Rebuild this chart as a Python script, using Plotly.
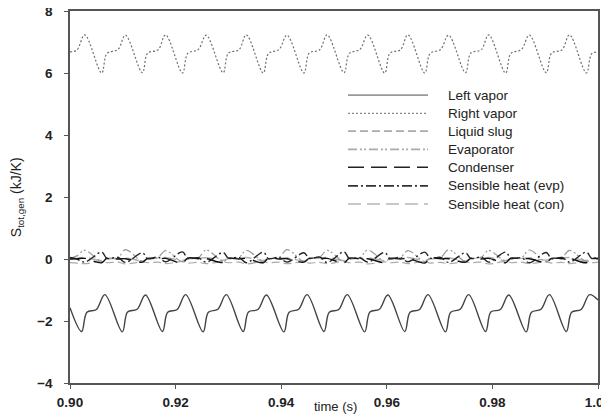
import plotly.graph_objects as go

# ---------------- data ----------------
# key times for the upper (right vapor) curve and near-zero series
t_top = [0.9000, 0.9013,
         0.9028, 0.9060, 0.9070, 0.9091,
         0.9105, 0.9137, 0.9147, 0.9167,
         0.9181, 0.9213, 0.9223, 0.9243,
         0.9258, 0.9290, 0.9300, 0.9320,
         0.9334, 0.9366, 0.9376, 0.9396,
         0.9411, 0.9443, 0.9453, 0.9473,
         0.9487, 0.9519, 0.9529, 0.9549,
         0.9564, 0.9596, 0.9606, 0.9626,
         0.9640, 0.9672, 0.9682, 0.9702,
         0.9717, 0.9749, 0.9759, 0.9779,
         0.9793, 0.9825, 0.9835, 0.9855,
         0.9870, 0.9902, 0.9912, 0.9932,
         0.9946, 0.9978, 0.9988, 1.0000]

right_vapor = [6.68, 6.74,
               7.23, 6.00, 6.63, 6.76,
               7.22, 6.01, 6.64, 6.75,
               7.23, 6.00, 6.63, 6.76,
               7.22, 6.01, 6.64, 6.75,
               7.23, 6.00, 6.63, 6.76,
               7.22, 6.00, 6.64, 6.75,
               7.23, 6.01, 6.63, 6.76,
               7.22, 6.00, 6.64, 6.75,
               7.23, 6.00, 6.63, 6.76,
               7.22, 6.01, 6.64, 6.75,
               7.23, 6.00, 6.63, 6.76,
               7.22, 6.01, 6.64, 6.75,
               7.23, 6.00, 6.62, 6.68]

evaporator = [0.02, 0.10,
              0.28, -0.08, 0.02, 0.05,
              0.30, -0.07, 0.01, 0.06,
              0.27, -0.09, 0.02, 0.04,
              0.29, -0.08, 0.03, 0.05,
              0.28, -0.07, 0.01, 0.05,
              0.30, -0.08, 0.02, 0.06,
              0.28, -0.09, 0.02, 0.04,
              0.29, -0.07, 0.01, 0.05,
              0.27, -0.08, 0.03, 0.05,
              0.30, -0.08, 0.02, 0.06,
              0.28, -0.07, 0.02, 0.04,
              0.29, -0.09, 0.01, 0.05,
              0.28, -0.08, 0.02, 0.04]

sens_evp = [0.05, 0.00,
            -0.10, 0.22, 0.02, 0.05,
            -0.11, 0.20, 0.01, 0.06,
            -0.09, 0.23, 0.02, 0.04,
            -0.10, 0.21, 0.03, 0.05,
            -0.12, 0.22, 0.01, 0.05,
            -0.10, 0.20, 0.02, 0.06,
            -0.11, 0.23, 0.02, 0.04,
            -0.10, 0.21, 0.01, 0.05,
            -0.09, 0.22, 0.03, 0.05,
            -0.11, 0.20, 0.02, 0.06,
            -0.10, 0.22, 0.02, 0.04,
            -0.12, 0.21, 0.01, 0.05,
            -0.10, 0.22, 0.02, 0.04]

condenser = [0.00, 0.01,
             0.02, -0.12, 0.03, 0.00,
             0.01, -0.10, 0.02, 0.00,
             0.02, -0.13, 0.03, 0.01,
             0.01, -0.11, 0.02, 0.00,
             0.02, -0.12, 0.03, 0.00,
             0.01, -0.10, 0.02, 0.01,
             0.02, -0.12, 0.03, 0.00,
             0.01, -0.11, 0.02, 0.00,
             0.02, -0.13, 0.03, 0.01,
             0.01, -0.10, 0.02, 0.00,
             0.02, -0.12, 0.03, 0.00,
             0.01, -0.11, 0.02, 0.01,
             0.02, -0.12, 0.03, 0.00]

liquid_slug = [-0.12, -0.13,
               -0.15, -0.08, -0.12, -0.10,
               -0.16, -0.09, -0.12, -0.10,
               -0.15, -0.08, -0.13, -0.11,
               -0.15, -0.09, -0.12, -0.10,
               -0.16, -0.08, -0.12, -0.10,
               -0.15, -0.09, -0.13, -0.11,
               -0.15, -0.08, -0.12, -0.10,
               -0.16, -0.09, -0.12, -0.10,
               -0.15, -0.08, -0.13, -0.11,
               -0.15, -0.09, -0.12, -0.10,
               -0.16, -0.08, -0.12, -0.10,
               -0.15, -0.09, -0.13, -0.11,
               -0.15, -0.08, -0.12, -0.10]

sens_con = [0.00, 0.02,
            0.05, -0.05, 0.00, 0.02,
            0.04, -0.06, 0.01, 0.02,
            0.05, -0.05, 0.00, 0.03,
            0.04, -0.04, 0.01, 0.02,
            0.05, -0.05, 0.00, 0.02,
            0.04, -0.06, 0.01, 0.03,
            0.05, -0.05, 0.00, 0.02,
            0.04, -0.04, 0.01, 0.02,
            0.05, -0.05, 0.00, 0.03,
            0.04, -0.06, 0.01, 0.02,
            0.05, -0.05, 0.00, 0.02,
            0.04, -0.04, 0.01, 0.03,
            0.05, -0.05, 0.00, 0.02]

# key times for the lower (left vapor) curve
t_bot = [0.9000,
         0.9022, 0.9032, 0.9050, 0.9066,
         0.9099, 0.9109, 0.9127, 0.9143,
         0.9175, 0.9185, 0.9203, 0.9219,
         0.9252, 0.9262, 0.9280, 0.9296,
         0.9328, 0.9338, 0.9356, 0.9372,
         0.9405, 0.9415, 0.9433, 0.9449,
         0.9481, 0.9491, 0.9509, 0.9525,
         0.9558, 0.9568, 0.9586, 0.9602,
         0.9634, 0.9644, 0.9662, 0.9678,
         0.9711, 0.9721, 0.9739, 0.9755,
         0.9787, 0.9797, 0.9815, 0.9831,
         0.9864, 0.9874, 0.9892, 0.9908,
         0.9940, 0.9950, 0.9968, 0.9984,
         1.0000]

left_vapor = [-1.57,
              -2.34, -1.72, -1.63, -1.15,
              -2.35, -1.71, -1.62, -1.16,
              -2.34, -1.72, -1.63, -1.15,
              -2.35, -1.72, -1.62, -1.15,
              -2.34, -1.71, -1.63, -1.16,
              -2.35, -1.72, -1.62, -1.15,
              -2.34, -1.72, -1.63, -1.15,
              -2.35, -1.71, -1.62, -1.16,
              -2.34, -1.72, -1.63, -1.15,
              -2.35, -1.72, -1.62, -1.15,
              -2.34, -1.71, -1.63, -1.16,
              -2.35, -1.72, -1.62, -1.15,
              -2.34, -1.72, -1.63, -1.15,
              -1.32]

x_ticks = [0.90, 0.92, 0.94, 0.96, 0.98, 1.00]
y_ticks = [-4, -2, 0, 2, 4, 6, 8]

series_names = ["Left vapor", "Right vapor", "Liquid slug", "Evaporator",
                "Condenser", "Sensible heat (evp)", "Sensible heat (con)"]

# ---------------- styles ----------------
styles = {
    "Left vapor": dict(color="#444444", dash="solid", width=1.4),
    "Right vapor": dict(color="#707070", dash="2px,2px", width=1.2),
    "Liquid slug": dict(color="#aaaaaa", dash="8px,4px", width=1.2),
    "Evaporator": dict(color="#999999", dash="9px,3px,2px,2px,2px,3px", width=1.2),
    "Condenser": dict(color="#111111", dash="16px,8px", width=1.4),
    "Sensible heat (evp)": dict(color="#222222", dash="10px,3px,2px,3px", width=1.4),
    "Sensible heat (con)": dict(color="#b0b0b0", dash="13px,6px", width=1.4),
}
legend_styles = {
    "Left vapor": dict(color="#999999", dash="solid", width=1.8),
    "Right vapor": dict(color="#888888", dash="2px,2px", width=1.2),
    "Liquid slug": dict(color="#aaaaaa", dash="8px,4px", width=1.6),
    "Evaporator": dict(color="#aaaaaa", dash="9px,3px,2px,2px,2px,3px", width=1.6),
    "Condenser": dict(color="#222222", dash="16px,7px", width=1.6),
    "Sensible heat (evp)": dict(color="#333333", dash="10px,3px,2px,3px", width=1.6),
    "Sensible heat (con)": dict(color="#b5b5b5", dash="13px,6px", width=1.6),
}

data = {
    "Left vapor": (t_bot, left_vapor),
    "Right vapor": (t_top, right_vapor),
    "Liquid slug": (t_top, liquid_slug),
    "Evaporator": (t_top, evaporator),
    "Condenser": (t_top, condenser),
    "Sensible heat (evp)": (t_top, sens_evp),
    "Sensible heat (con)": (t_top, sens_con),
}

FONT = "Liberation Sans, Arial"

fig = go.Figure()
draw_order = ["Liquid slug", "Sensible heat (con)", "Evaporator", "Condenser",
              "Sensible heat (evp)", "Right vapor", "Left vapor"]
for name in draw_order:
    t, v = data[name]
    fig.add_trace(go.Scatter(x=t, y=v, mode="lines", name=name,
                             line=dict(shape="spline", smoothing=1.0, **styles[name]),
                             showlegend=False))

# manual legend (matches the original's long line samples)
row_y = [0.774, 0.725, 0.677, 0.628, 0.580, 0.530, 0.481]
for name, yy in zip(series_names, row_y):
    st = legend_styles[name]
    fig.add_shape(type="line", xref="paper", yref="paper",
                  x0=0.5265, x1=0.678, y0=yy, y1=yy,
                  line=dict(color=st["color"], dash=st["dash"], width=st["width"]))
    fig.add_annotation(xref="paper", yref="paper", x=0.712, y=yy, text=name,
                       showarrow=False, xanchor="left", yanchor="middle",
                       font=dict(family=FONT, size=13.5, color="#222222"))

# axis titles
fig.add_annotation(xref="paper", yref="paper", x=0.502, y=-0.064, text="time (s)",
                   showarrow=False, xanchor="center", yanchor="middle",
                   font=dict(family=FONT, size=13, color="#222222"))
fig.add_annotation(xref="paper", yref="paper", x=-0.100, y=0.50,
                   text="S<sub>tot,gen</sub> (kJ/K)", textangle=-90,
                   showarrow=False, xanchor="center", yanchor="middle",
                   font=dict(family=FONT, size=14, color="#222222"))

axis_common = dict(showgrid=False, zeroline=False, showline=True, mirror=True,
                   linecolor="#555555", linewidth=1.5, ticks="outside", ticklen=4,
                   tickcolor="#555555", tickwidth=1, ticklabeloverflow="allow",
                   automargin=False,
                   tickfont=dict(family=FONT, size=13.5, color="#222222", weight="bold"))

fig.update_xaxes(range=[0.90, 1.00], tickvals=x_ticks, tickformat=".2f",
                 ticklabelstandoff=2, **axis_common)
fig.update_yaxes(range=[-4, 8], tickvals=y_ticks, ticklabelstandoff=9, **axis_common)

# the page adds an 8px body margin, so the figure is sized/positioned to compensate
fig.update_layout(width=601, height=411,
                  margin=dict(l=62, r=11, t=3, b=36),
                  plot_bgcolor="white", paper_bgcolor="white",
                  showlegend=False)

fig.write_html("out.html")
